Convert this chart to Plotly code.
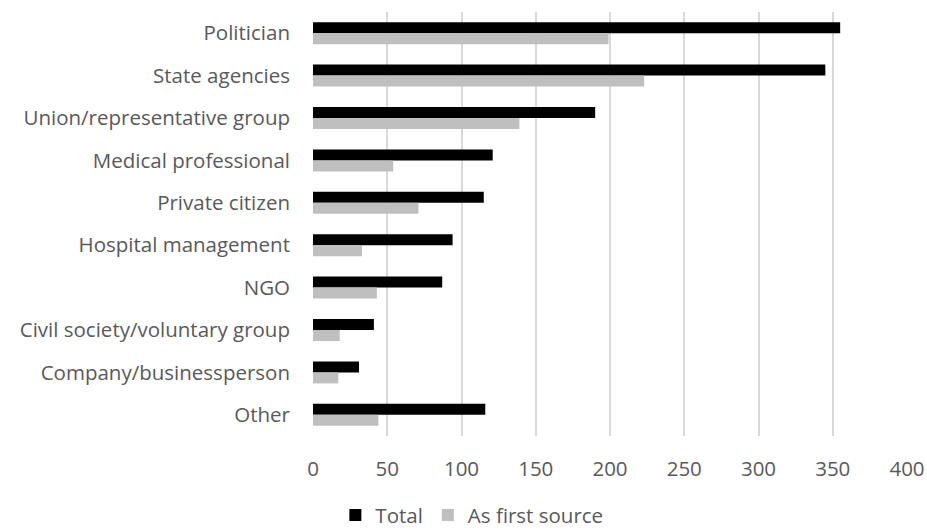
import plotly.graph_objects as go

categories = ["Politician", "State agencies", "Union/representative group",
              "Medical professional", "Private citizen", "Hospital management",
              "NGO", "Civil society/voluntary group", "Company/businessperson", "Other"]
total = [355, 345, 190, 121, 115, 94, 87, 41, 31, 116]
first_source = [199, 223, 139, 54, 71, 33, 43, 18, 17, 44]
x_ticks = [0, 50, 100, 150, 200, 250, 300, 350, 400]

FONT = "Open Sans"
TXT = "#595959"
FS = 20.5

fig = go.Figure()
fig.add_trace(go.Bar(y=categories, x=total, name="Total", orientation="h",
                     marker=dict(color="#000000", line=dict(width=0))))
fig.add_trace(go.Bar(y=categories, x=first_source, name="As first source", orientation="h",
                     marker=dict(color="#bfbfbf", line=dict(width=0))))

fig.update_layout(
    width=927, height=530,
    margin=dict(l=313, r=20, t=12, b=94, autoexpand=False),
    paper_bgcolor="white", plot_bgcolor="white",
    barmode="group", bargap=0.48, bargroupgap=0,
    font=dict(family=FONT, size=FS, color=TXT),
    showlegend=True,
    legend=dict(orientation="h", xref="container", yref="container",
                x=0.509, xanchor="center", y=0.028, yanchor="middle",
                font=dict(family=FONT, size=FS, color=TXT),
                itemwidth=30, traceorder="normal", itemsizing="constant",
                tracegroupgap=0),
    xaxis=dict(range=[0, 400], tickvals=x_ticks, showgrid=True, gridcolor="#d9d9d9",
               gridwidth=2, zeroline=False, showline=False, ticks="", automargin=False,
               ticklabelstandoff=18, tickfont=dict(family=FONT, size=FS, color=TXT)),
    yaxis=dict(autorange="reversed", showgrid=False, showline=False, ticks="", automargin=False,
               ticklabelstandoff=22, tickfont=dict(family=FONT, size=FS, color=TXT)),
)

fig.write_html("out.html")
